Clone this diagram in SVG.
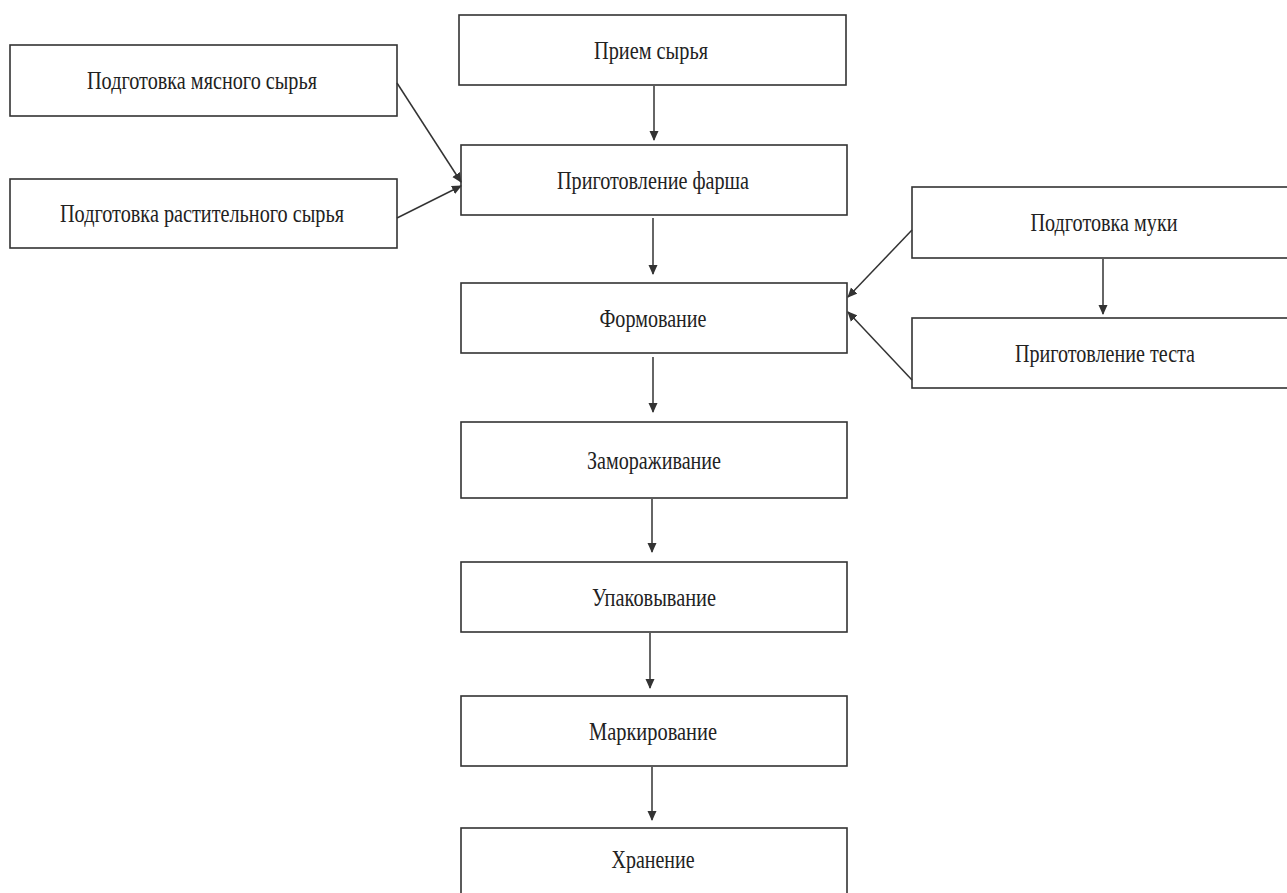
<svg xmlns="http://www.w3.org/2000/svg" width="1287" height="893" viewBox="0 0 1287 893">
<style>
.box{fill:#fff;stroke:#333;stroke-width:1.6}
.t{font-family:"Liberation Serif","Times New Roman",serif;font-size:26px;fill:#222;text-anchor:middle}
.c{stroke:#333;stroke-width:1.5;fill:none}
</style>
<defs>
<marker id="ah" viewBox="0 0 10 10" refX="9" refY="5" markerWidth="10" markerHeight="10" markerUnits="userSpaceOnUse" orient="auto">
<path d="M0,0.5 L10,5 L0,9.5 z" fill="#333"/>
</marker>
</defs>
<rect width="1287" height="893" fill="#fff"/>
<g id="n-meat"><rect class="box" x="10" y="45" width="387" height="71"/><text class="t" x="202" y="89" textLength="230" lengthAdjust="spacingAndGlyphs">Подготовка мясного сырья</text></g>
<g id="n-veg"><rect class="box" x="10" y="179" width="387" height="69"/><text class="t" x="202" y="222" textLength="284" lengthAdjust="spacingAndGlyphs">Подготовка растительного сырья</text></g>
<g id="n-receive"><rect class="box" x="459" y="15" width="387" height="70"/><text class="t" x="651" y="59" textLength="114" lengthAdjust="spacingAndGlyphs">Прием сырья</text></g>
<g id="n-farsh"><rect class="box" x="461" y="145" width="386" height="70"/><text class="t" x="653" y="189" textLength="192" lengthAdjust="spacingAndGlyphs">Приготовление фарша</text></g>
<g id="n-form"><rect class="box" x="461" y="283" width="386" height="70"/><text class="t" x="653" y="327" textLength="107" lengthAdjust="spacingAndGlyphs">Формование</text></g>
<g id="n-freeze"><rect class="box" x="461" y="422" width="386" height="76"/><text class="t" x="654" y="469" textLength="134" lengthAdjust="spacingAndGlyphs">Замораживание</text></g>
<g id="n-pack"><rect class="box" x="461" y="562" width="386" height="70"/><text class="t" x="654" y="606" textLength="124" lengthAdjust="spacingAndGlyphs">Упаковывание</text></g>
<g id="n-mark"><rect class="box" x="461" y="696" width="386" height="70"/><text class="t" x="653" y="740" textLength="128" lengthAdjust="spacingAndGlyphs">Маркирование</text></g>
<g id="n-store"><rect class="box" x="461" y="828" width="386" height="70"/><text class="t" x="653" y="868" textLength="83" lengthAdjust="spacingAndGlyphs">Хранение</text></g>
<g id="n-flour"><rect class="box" x="912" y="187" width="386" height="71"/><text class="t" x="1104" y="231" textLength="147" lengthAdjust="spacingAndGlyphs">Подготовка муки</text></g>
<g id="n-dough"><rect class="box" x="912" y="318" width="386" height="70"/><text class="t" x="1105" y="362" textLength="180" lengthAdjust="spacingAndGlyphs">Приготовление теста</text></g>
<g id="connectors">
<line class="c" x1="654" y1="86" x2="654" y2="140" marker-end="url(#ah)"/>
<line class="c" x1="653" y1="218" x2="653" y2="274" marker-end="url(#ah)"/>
<line class="c" x1="653" y1="357" x2="653" y2="412" marker-end="url(#ah)"/>
<line class="c" x1="652" y1="499" x2="652" y2="552" marker-end="url(#ah)"/>
<line class="c" x1="650" y1="633" x2="650" y2="688" marker-end="url(#ah)"/>
<line class="c" x1="652" y1="767" x2="652" y2="820" marker-end="url(#ah)"/>
<line class="c" x1="1103" y1="259" x2="1103" y2="314" marker-end="url(#ah)"/>
<line class="c" x1="397" y1="83" x2="461" y2="182" marker-end="url(#ah)"/>
<line class="c" x1="397" y1="218" x2="461" y2="186" marker-end="url(#ah)"/>
<line class="c" x1="912" y1="230" x2="848" y2="297" marker-end="url(#ah)"/>
<line class="c" x1="912" y1="380" x2="848" y2="312" marker-end="url(#ah)"/>
</g>
</svg>
